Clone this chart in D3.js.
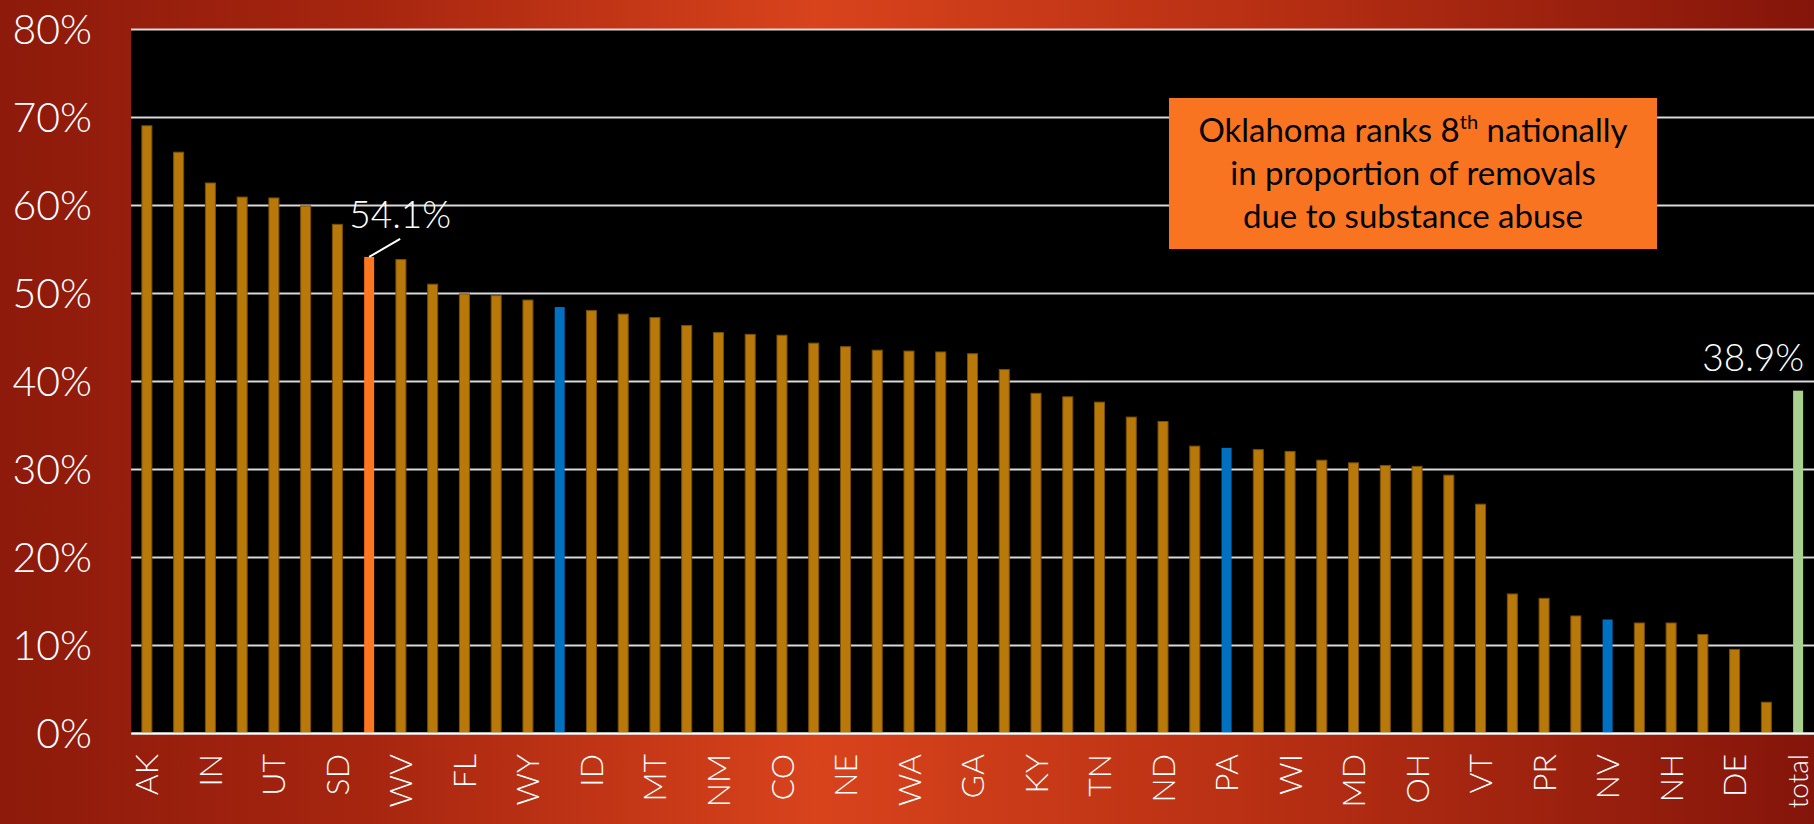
<!DOCTYPE html>
<html>
<head>
<meta charset="utf-8">
<script src="https://cdn.jsdelivr.net/npm/d3@7"></script>
<style>
  html, body { margin: 0; padding: 0; background: #8e1a0b; }
  svg { display: block; }
</style>
</head>
<body>
<svg id="chart" width="1814" height="824"></svg>
<script>
// ---- data ----
// tick labels as shown (only every other bar is labelled in the original)
const stateLabels = ["AK","","IN","","UT","","SD","OK","WV","","FL","","WY","","ID","","MT","","NM","","CO","","NE","","WA","","GA","","KY","","TN","","ND","","PA","","WI","","MD","","OH","","VT","","PR","","NV","","NH","","DE","","total"];
const values = [69.0,66.0,62.5,60.9,60.8,59.9,57.8,54.1,53.8,51.0,49.9,49.7,49.2,48.4,48.0,47.6,47.2,46.3,45.5,45.3,45.2,44.3,43.9,43.5,43.4,43.3,43.1,41.3,38.6,38.2,37.6,35.9,35.4,32.6,32.4,32.2,32.0,31.0,30.7,30.4,30.3,29.3,26.0,15.8,15.3,13.3,12.9,12.5,12.5,11.2,9.5,3.5,38.9];
const oklahomaIndex = [7];
const compareIndex = [13, 34, 46];
const totalIndex = [52];
const yTicks = [0,10,20,30,40,50,60,70,80];
const calloutLines = ["Oklahoma ranks 8|th| nationally", "in proportion of removals", "due to substance abuse"];

// ---- layout ----
const W = 1814, H = 824;
const m = {left: 131, right: 0, top: 29, bottom: 91};
const iw = W - m.left - m.right, ih = H - m.top - m.bottom;
const svg = d3.select("#chart");
const FONT = "Lato, 'Liberation Sans', sans-serif";

// background gradient
const defs = svg.append("defs");
const g1 = defs.append("linearGradient").attr("id","bg").attr("x1","0").attr("x2","1").attr("y1","0").attr("y2","0");
g1.append("stop").attr("offset","0%").attr("stop-color","#8d1a0b");
g1.append("stop").attr("offset","20%").attr("stop-color","#a6250f");
g1.append("stop").attr("offset","45%").attr("stop-color","#d8431c");
g1.append("stop").attr("offset","70%").attr("stop-color","#b72f13");
g1.append("stop").attr("offset","100%").attr("stop-color","#84150a");
svg.append("rect").attr("width",W).attr("height",H).attr("fill","url(#bg)");

const g = svg.append("g").attr("transform",`translate(${m.left},${m.top})`);
g.append("rect").attr("width",iw).attr("height",ih).attr("fill","#000");

const idx = values.map((d,i)=>i);
const x = d3.scaleBand().domain(idx).range([0, iw]).paddingInner(0.685).paddingOuter(0.3425);
const y = d3.scaleLinear().domain([0,80]).range([ih, 0]);

// grid + y labels
const yAxis = g.append("g").call(d3.axisLeft(y).tickValues(yTicks).tickSize(-iw).tickPadding(39).tickFormat(d=>d+"%"));
yAxis.select(".domain").remove();
yAxis.selectAll(".tick line").attr("stroke","#d9d9d9").attr("stroke-width",2.2);
yAxis.selectAll(".tick text").attr("fill","#fff").attr("font-family",FONT).attr("font-weight",300).attr("font-size",41).attr("dy","0.35em");

// bars
function color(i){
  if (oklahomaIndex.includes(i)) return "#fd7620";
  if (compareIndex.includes(i)) return "#0070c0";
  if (totalIndex.includes(i)) return "#a9d08e";
  return "#b8790a";
}
g.selectAll("rect.bar").data(values).join("rect").attr("class","bar")
  .attr("x",(d,i)=>x(i)).attr("width",x.bandwidth())
  .attr("y",d=>y(d)).attr("height",d=>y(0)-y(d))
  .attr("fill",(d,i)=>color(i))
  .attr("stroke",(d,i)=>color(i)==="#b8790a" ? "#7a5006" : "none").attr("stroke-width",1);

// x labels
const xAxis = g.append("g").attr("transform",`translate(0,${ih})`)
  .call(d3.axisBottom(x).tickSize(0).tickFormat(i => (i % 2 === 0) ? stateLabels[i] : ""));
xAxis.select(".domain").attr("stroke","#fff").attr("stroke-width",2);
xAxis.selectAll(".tick text")
  .attr("fill","#fff").attr("font-family",FONT).attr("font-weight",300)
  .attr("font-size",i => totalIndex.includes(i) ? 28 : 32)
  .attr("text-anchor","end").attr("transform","rotate(-90)")
  .attr("x",-21).attr("y",0).attr("dy","0.36em");

// data labels
const ok = oklahomaIndex[0];
const okx = x(ok) + x.bandwidth()/2, oky = y(values[ok]);
g.append("line").attr("x1",okx).attr("y1",oky).attr("x2",okx+31).attr("y2",oky-18)
  .attr("stroke","#fff").attr("stroke-width",2);
g.append("text").attr("x",okx+31).attr("y",oky-29).attr("text-anchor","middle")
  .attr("fill","#fff").attr("font-family",FONT).attr("font-weight",300).attr("font-size",37)
  .text(d3.format(".1f")(values[ok])+"%");

const tot = totalIndex[0];
g.append("text").attr("x",x(tot)+x.bandwidth()/2+6).attr("y",y(values[tot])-20).attr("text-anchor","end")
  .attr("fill","#fff").attr("font-family",FONT).attr("font-weight",300).attr("font-size",37)
  .text(d3.format(".1f")(values[tot])+"%");

// callout box
const box = svg.append("g").attr("transform","translate(1169,98)");
box.append("rect").attr("width",488).attr("height",151).attr("fill","#f97421");
calloutLines.forEach((line, k) => {
  const t = box.append("text").attr("x",244).attr("y",44 + k*43).attr("text-anchor","middle")
    .attr("font-family","Lato, 'Open Sans', sans-serif").attr("font-size",33).attr("fill","#000");
  const parts = line.split("|");
  if (parts.length === 1) t.text(line);
  else {
    t.append("tspan").text(parts[0]);
    t.append("tspan").attr("font-size",20).attr("dy",-13).text(parts[1]);
    t.append("tspan").attr("dy",13).text(parts[2]);
  }
});
</script>
</body>
</html>
